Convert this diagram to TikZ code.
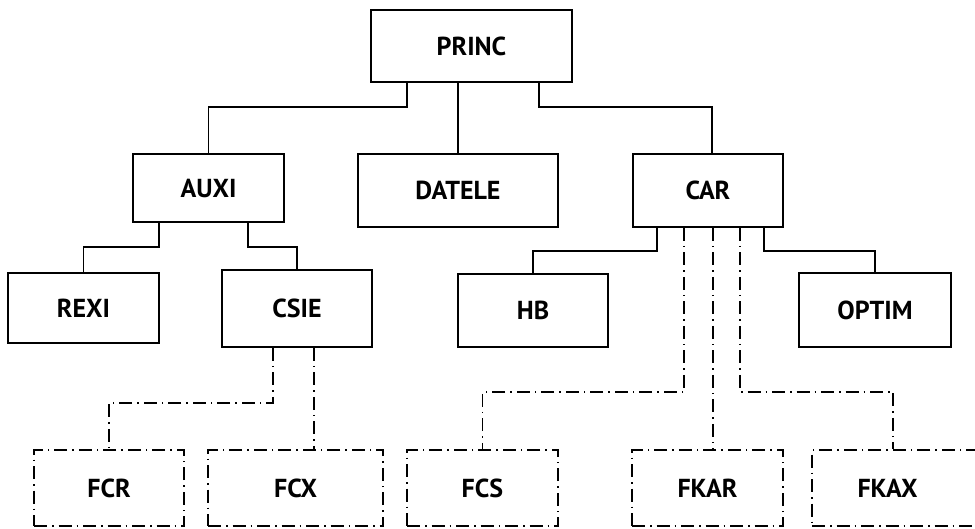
\documentclass[tikz,border=0pt]{standalone}
\usepackage{fontspec}
\setmainfont{PT Sans}
\usepackage{tikz}
\usetikzlibrary{positioning, calc}
\tikzset{
  % module boxes
  modbox/.style={rectangle, draw=black, line width=1.6pt, minimum width=#1, text centered, font=\fontsize{26}{29}\selectfont\bfseries, inner sep=0pt},
  modbox/.default={151pt},
  funbox/.style={modbox=#1, dash pattern=on 13pt off 5pt on 1.5pt off 5pt},
  funbox/.default={151pt},
  % connectors
  link/.style={line width=1.6pt},
  dlink/.style={line width=1.6pt, dash pattern=on 13pt off 5pt on 1.5pt off 5pt},
}
\begin{document}
\begin{tikzpicture}[x=1pt, y=-1pt]
    \useasboundingbox (0,0) rectangle (975,528);

    % Top level
    \node[modbox=201pt, minimum height=72pt] (princ) at (471.5,46) {PRINC};

    % Second level
    \node[modbox=151pt, minimum height=68pt] (auxi) at (208.5,188) {AUXI};
    \node[modbox=200pt, minimum height=73pt] (datele) at (458,190.5) {DATELE};
    \node[modbox=150pt, minimum height=73pt] (car) at (708,190.5) {CAR};

    % Third level
    \node[modbox=151pt, minimum height=70pt] (rexi) at (83.5,308) {REXI};
    \node[modbox=150pt, minimum height=77pt] (csie) at (297,308.5) {CSIE};
    \node[modbox=150pt, minimum height=73pt] (hb) at (533,310.5) {HB};
    \node[modbox=152pt, minimum height=74pt] (optim) at (875,310) {OPTIM};

    % Functions
    \node[funbox=150pt, minimum height=76pt] (fcr) at (109,488) {FCR};
    \node[funbox=175pt, minimum height=76pt] (fcx) at (295.5,488) {FCX};
    \node[funbox=151pt, minimum height=76pt] (fcs) at (482.5,488) {FCS};
    \node[funbox=151pt, minimum height=76pt] (fkar) at (707.5,488) {FKAR};
    \node[funbox=168pt, minimum height=76pt] (fkax) at (896,488) {FKAX\kern17pt};

    % Solid connectors
    \draw[link] ([xshift=-64.5pt]princ.south) -- ++(0,24) -| (auxi.north);
    \draw[link] (princ.south -| datele.north) -- (datele.north);
    \draw[link] ([xshift=67.5pt]princ.south) -- ++(0,24) -| ([xshift=4pt]car.north);
    \draw[link] ([xshift=-49.5pt]auxi.south) -- ++(0,24) -| (rexi.north);
    \draw[link] ([xshift=39.5pt]auxi.south) -- ++(0,24) -| (csie.north);
    \draw[link] ([xshift=-51pt]car.south) -- ++(0,23) -| (hb.north);
    \draw[link] ([xshift=56pt]car.south) -- ++(0,23) -| (optim.north);

    % Dash-dot connectors
    \draw[dlink] ([xshift=-24pt]csie.south) -- ++(0,55) -| (fcr.north);
    \draw[dlink] ([xshift=17pt]csie.south) -- ([xshift=17pt]csie.south |- fcx.north);
    \draw[dlink] ([xshift=-24pt]car.south) -- ++(0,164) -| (fcs.north);
    \draw[dlink] ([xshift=5pt]car.south) -- ([xshift=5pt]car.south |- fkar.north);
    \draw[dlink] ([xshift=32pt]car.south) -- ++(0,164) -| ([xshift=-3pt]fkax.north);
\end{tikzpicture}
\end{document}
